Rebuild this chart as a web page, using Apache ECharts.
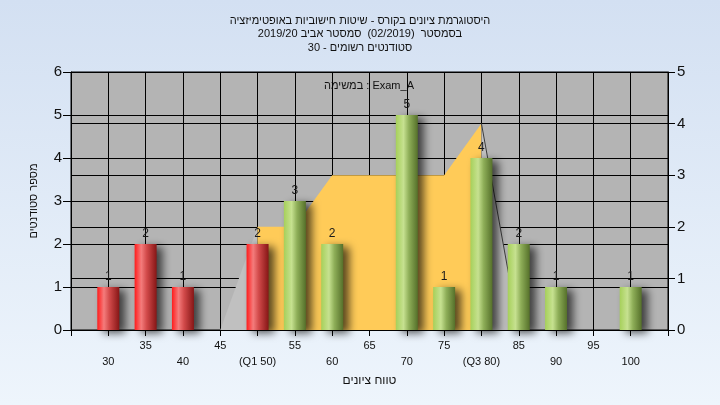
<!DOCTYPE html>
<html><head><meta charset="utf-8">
<script src="https://cdn.jsdelivr.net/npm/echarts@6/dist/echarts.min.js"></script>
<style>html,body{margin:0;padding:0;background:#e4edf8;}#c{width:720px;height:405px;}</style>
</head><body><div id="c"></div>
<script>
// ---- data ----
const titleLines = ['היסטוגרמת ציונים בקורס - שיטות חישוביות באופטימיזציה', 'בסמסטר  (02/2019)  סמסטר אביב 2019/20', 'סטודנטים רשומים - 30'];
const legendText = 'במשימה : Exam_A';
const xAxisName = 'טווח ציונים';
const yAxisName = 'מספר סטודנטים';
const scoreBins = [30, 35, 40, 45, 50, 55, 60, 65, 70, 75, 80, 85, 90, 95, 100];
const studentCounts = [1, 2, 1, 0, 2, 3, 2, 0, 5, 1, 4, 2, 1, 0, 1];
const failLimit = 50;               // bins up to this score are red
const q1 = 50, q3 = 80;
const quartileLabels = {50: '(Q1 50)', 80: '(Q3 80)'};
const bandX = [45, 50, 55, 60, 65, 70, 75, 80, 85];
const bandY = [0, 2, 2, 3, 3, 3, 3, 4, 0];

// ---- styling ----
const FONT = "'Liberation Sans', Arial, 'DejaVu Sans', sans-serif";
const redGrad = {type: 'linear', x: 0, y: 0, x2: 1, y2: 0, colorStops: [
  {offset: 0, color: '#ff1c1c'}, {offset: 0.3, color: '#f47c7c'}, {offset: 0.55, color: '#d24a4a'}, {offset: 1, color: '#861616'}]};
const greenGrad = {type: 'linear', x: 0, y: 0, x2: 1, y2: 0, colorStops: [
  {offset: 0, color: '#a6d05a'}, {offset: 0.35, color: '#c6e190'}, {offset: 0.6, color: '#8eae58'}, {offset: 1, color: '#55702a'}]};

const pairs = bandX.map((x, i) => [x, bandY[i]]);
const grayLeft = pairs.filter(p => p[0] <= q1);
const yellowBand = pairs.filter(p => p[0] >= q1 && p[0] <= q3);
const grayRight = pairs.filter(p => p[0] >= q3);

const barData = scoreBins.map((x, i) => ({
  value: [x, studentCounts[i]],
  itemStyle: {color: x <= failLimit ? redGrad : greenGrad}
}));

const chart = echarts.init(document.getElementById('c'), null, {renderer: 'canvas'});
chart.setOption({
  animation: false,
  backgroundColor: {type: 'linear', x: 0, y: 0, x2: 0, y2: 1, colorStops: [
    {offset: 0, color: '#d3e0f2'}, {offset: 1, color: '#eef5fc'}]},
  textStyle: {fontFamily: FONT},
  title: {
    text: titleLines.join('\n'), left: 'center', top: 9,
    textStyle: {fontSize: 11, fontWeight: 'normal', color: '#111', lineHeight: 13.5, fontFamily: FONT}
  },
  graphic: [{
    type: 'text', x: 369, y: 86, silent: true,
    style: {text: legendText, textAlign: 'center', textVerticalAlign: 'middle', fontSize: 11, fill: '#111', fontFamily: FONT}
  }],
  grid: {left: 71, right: 52, top: 72, bottom: 75, show: true, backgroundColor: '#b4b4b4', borderColor: '#000', borderWidth: 1},
  xAxis: {
    type: 'value', min: 25, max: 105, interval: 5,
    name: xAxisName, nameLocation: 'middle', nameGap: 45,
    nameTextStyle: {fontSize: 12, color: '#111', fontFamily: FONT},
    axisLine: {show: true, onZero: false, lineStyle: {color: '#000', width: 1}},
    axisTick: {show: true, length: 6, lineStyle: {color: '#000'}},
    splitLine: {show: true, lineStyle: {color: '#000', width: 1}},
    axisLabel: {
      fontSize: 11, color: '#111', margin: 8, lineHeight: 16, fontFamily: FONT,
      showMinLabel: true, showMaxLabel: true, hideOverlap: false,
      formatter: v => {
        if (v < scoreBins[0] || v > scoreBins[scoreBins.length - 1]) return '';
        const t = quartileLabels[v] || String(v);
        return v % 10 === 0 ? '\n' + t : t;
      }
    }
  },
  yAxis: [{
    type: 'value', min: 0, max: 6, interval: 1, position: 'left',
    name: yAxisName, nameLocation: 'middle', nameGap: 32, nameRotate: 90,
    nameTextStyle: {fontSize: 11, color: '#111', fontFamily: FONT},
    axisLine: {show: true, lineStyle: {color: '#000'}},
    axisTick: {show: true, length: 8, lineStyle: {color: '#000'}},
    splitLine: {show: true, lineStyle: {color: '#000', width: 1}},
    axisLabel: {fontSize: 15, color: '#111', margin: 9, fontFamily: FONT}
  }, {
    type: 'value', min: 0, max: 5, interval: 1, position: 'right',
    axisLine: {show: true, lineStyle: {color: '#000'}},
    axisTick: {show: true, length: 7, lineStyle: {color: '#000'}},
    splitLine: {show: true, lineStyle: {color: '#000', width: 1}},
    axisLabel: {fontSize: 15, color: '#111', margin: 9, fontFamily: FONT}
  }],
  series: [
    {type: 'line', yAxisIndex: 1, data: grayLeft, symbol: 'none', silent: true, z: 1,
     lineStyle: {opacity: 0}, areaStyle: {color: '#c0c0c0', opacity: 1}},
    {type: 'line', yAxisIndex: 1, data: yellowBand, symbol: 'none', silent: true, z: 1,
     lineStyle: {opacity: 0}, areaStyle: {color: '#ffcb58', opacity: 1}},
    {type: 'line', yAxisIndex: 1, data: grayRight, symbol: 'none', silent: true, z: 1,
     lineStyle: {color: '#3c3c3c', width: 1}, areaStyle: {color: '#c0c0c0', opacity: 1}},
    {type: 'bar', yAxisIndex: 0, data: barData, barWidth: 22, z: 3,
     itemStyle: {shadowBlur: 8, shadowColor: 'rgba(0,0,0,0.65)', shadowOffsetX: 6, shadowOffsetY: 3},
     label: {show: true, position: 'top', distance: 4, fontSize: 12, color: '#1a1a1a', fontFamily: FONT,
             formatter: p => p.value[1] > 0 ? String(p.value[1]) : ''}}
  ]
});
</script>
</body></html>
